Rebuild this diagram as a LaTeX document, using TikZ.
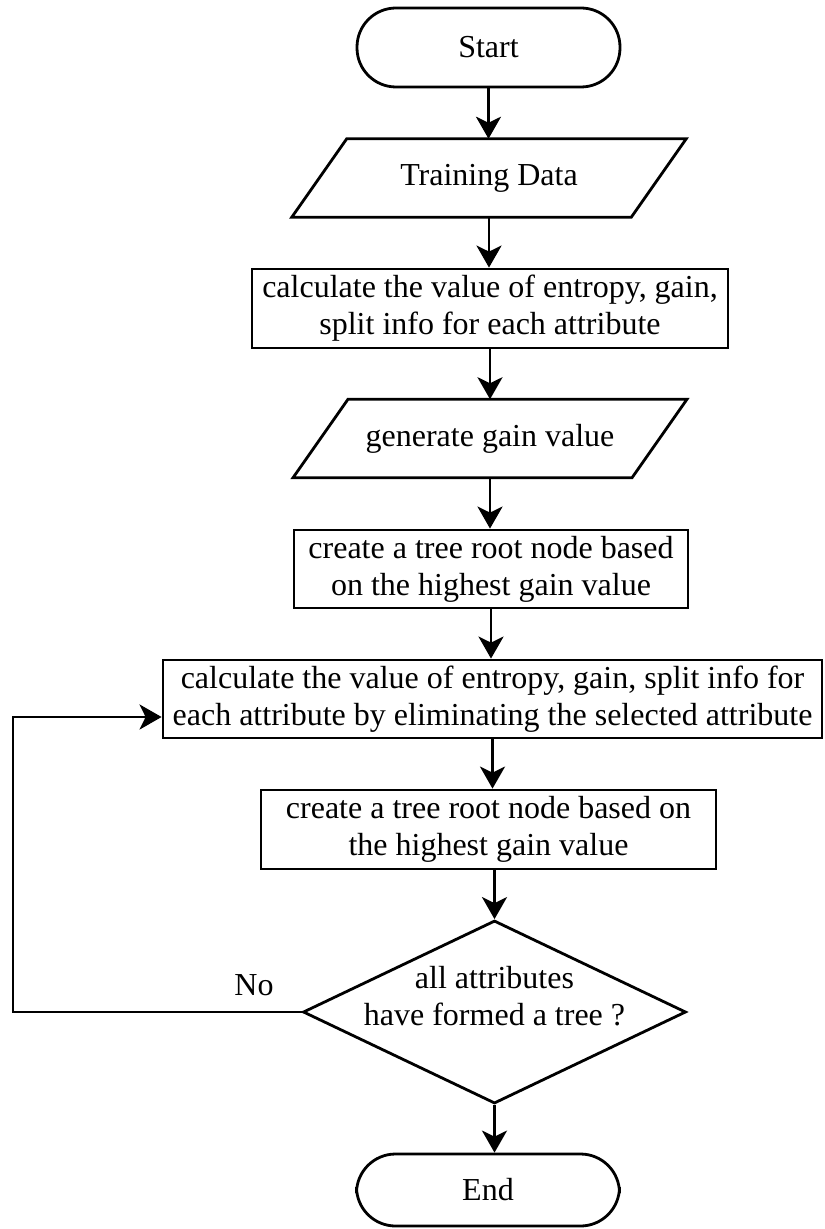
\documentclass[tikz,border=0pt]{standalone}
\usepackage{fontspec}
\setmainfont{Liberation Serif}
\usetikzlibrary{arrows.meta,shapes.geometric,calc}
\begin{document}
\begin{tikzpicture}[x=0.5pt,y=-0.5pt,
  every node/.style={font=\fontsize{16pt}{18.5pt}\selectfont, align=center, inner sep=1pt},
  shapeline/.style={line width=1.4pt},
  term/.style={draw, shapeline, rectangle, rounded corners=19.5pt, minimum width=131.5pt, minimum height=39.5pt},
  procbox/.style={draw, shapeline, rectangle, minimum height=39.5pt},
  iobox/.style={rectangle, outer sep=0pt, minimum height=39.25pt},
  dia/.style={draw, shapeline, diamond, minimum width=191.5pt, minimum height=91.5pt, inner sep=0pt},
  flow/.style={line width=1.4pt, -{Stealth[length=11pt,width=12.5pt,inset=3pt]}}
]
\useasboundingbox (0,0) rectangle (824,1229);

\node[term] (start) at (488.5,47.5) {Start};

\node[iobox, minimum width=169.75pt] (td) at (489,178) {Training Data};
\draw[shapeline] ($(td.north west)+(27.5,0)$) -- ($(td.north east)+(27.5,0)$)
  -- ($(td.south east)+(-27.5,0)$) -- ($(td.south west)+(-27.5,0)$) -- cycle;

\node[procbox, minimum width=238pt] (calc1) at (490,308.5)
  {calculate the value of entropy, gain,\\split info for each attribute};

\node[iobox, minimum width=169.5pt] (gen) at (490,438.5) {generate gain value};
\draw[shapeline] ($(gen.north west)+(27.5,0)$) -- ($(gen.north east)+(27.5,0)$)
  -- ($(gen.south east)+(-27.5,0)$) -- ($(gen.south west)+(-27.5,0)$) -- cycle;

\node[procbox, minimum width=197pt, minimum height=39pt] (root1) at (491,569)
  {create a tree root node based\\on the highest gain value};

\node[procbox, minimum width=329.5pt, minimum height=39pt] (calc2) at (492.5,699)
  {calculate the value of entropy, gain, split info for\\each attribute by eliminating the selected attribute};

\node[procbox, minimum width=227.5pt] (root2) at (488.5,829.5)
  {create a tree root node based on\\the highest gain value};

\node[dia] (dec) at (494.5,1012) {};
\node (dectext) at (494.5,996.5) {all attributes\\have formed a tree ?};

\node[term, minimum height=36pt] (end) at (488,1190) {End};

\node (nolabel) at (254,985) {No};

\coordinate (loopc) at (13,1012);

\draw[flow] (start.south) -- (start.south |- td.north);
\draw[flow] (td.south) -- (td.south |- calc1.north);
\draw[flow] (calc1.south) -- (calc1.south |- gen.north);
\draw[flow] (gen.south) -- (gen.south |- root1.north);
\draw[flow] (root1.south) -- (root1.south |- calc2.north);
\draw[flow] (calc2.south) -- (calc2.south |- root2.north);
\draw[flow] (dec.north |- root2.south) -- (dec.north);
\draw[flow] (dec.south) -- (dec.south |- end.north);
\draw[flow] (dec.west) -- (loopc) |- ([yshift=-9pt]calc2.west);
\end{tikzpicture}
\end{document}
